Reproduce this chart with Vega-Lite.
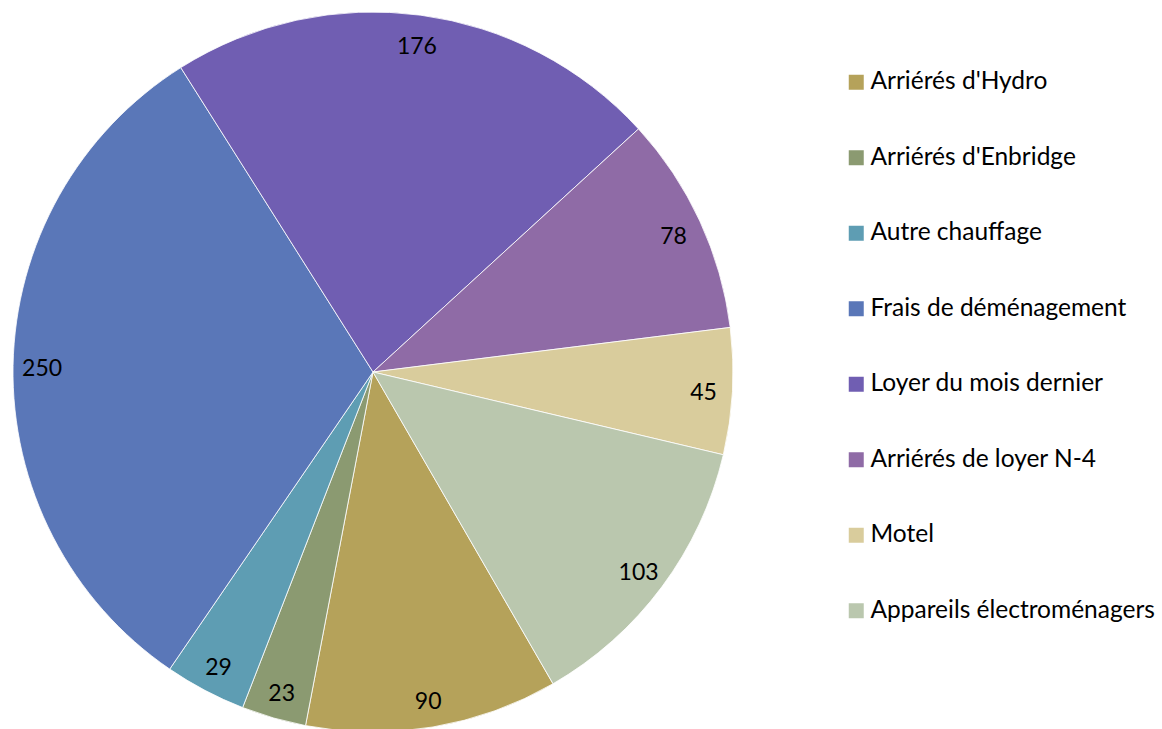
{
  "$schema": "https://vega.github.io/schema/vega-lite/v6.json",
  "width": 746,
  "height": 744,
  "padding": 0,
  "autosize": {"type": "pad"},
  "background": "white",
  "config": {"view": {"stroke": null}, "font": "Lato"},
  "data": {
    "values": [
      {"idx": 1, "categorie": "Arriérés d'Hydro", "montant": 90},
      {"idx": 2, "categorie": "Arriérés d'Enbridge", "montant": 23},
      {"idx": 3, "categorie": "Autre chauffage", "montant": 29},
      {"idx": 4, "categorie": "Frais de déménagement", "montant": 250},
      {"idx": 5, "categorie": "Loyer du mois dernier", "montant": 176},
      {"idx": 6, "categorie": "Arriérés de loyer N-4", "montant": 78},
      {"idx": 7, "categorie": "Motel", "montant": 45},
      {"idx": 8, "categorie": "Appareils électroménagers", "montant": 103}
    ]
  },
  "encoding": {
    "theta": {"field": "montant", "type": "quantitative", "stack": true,
      "scale": {"domain": [0, 794], "range": [2.618, 8.901], "zero": true, "nice": false}},
    "order": {"field": "idx", "type": "quantitative"},
    "color": {
      "field": "categorie", "type": "nominal",
      "scale": {
        "domain": ["Arriérés d'Hydro", "Arriérés d'Enbridge", "Autre chauffage", "Frais de déménagement", "Loyer du mois dernier", "Arriérés de loyer N-4", "Motel", "Appareils électroménagers"],
        "range": ["#B5A25A", "#8B9A71", "#5E9DB3", "#5A77B8", "#705EB2", "#8F6BA6", "#D9CC9C", "#BAC7AE"]
      },
      "legend": {
        "orient": "none", "legendX": 844, "legendY": 70, "title": null,
        "symbolType": "square", "symbolSize": 225, "symbolStrokeWidth": 0,
        "labelFontSize": 24.5, "labelFont": "Lato", "labelColor": "black",
        "labelOffset": 2, "rowPadding": 50.5, "labelLimit": 400
      }
    }
  },
  "layer": [
    {"mark": {"type": "arc", "radius": 360, "stroke": "white", "strokeWidth": 0.8}},
    {"mark": {"type": "text", "radius": 331, "fontSize": 23, "font": "Lato", "color": "black", "dy": 3.5},
     "encoding": {"text": {"field": "montant", "type": "quantitative"}, "color": {"value": "black"}}}
  ]
}
